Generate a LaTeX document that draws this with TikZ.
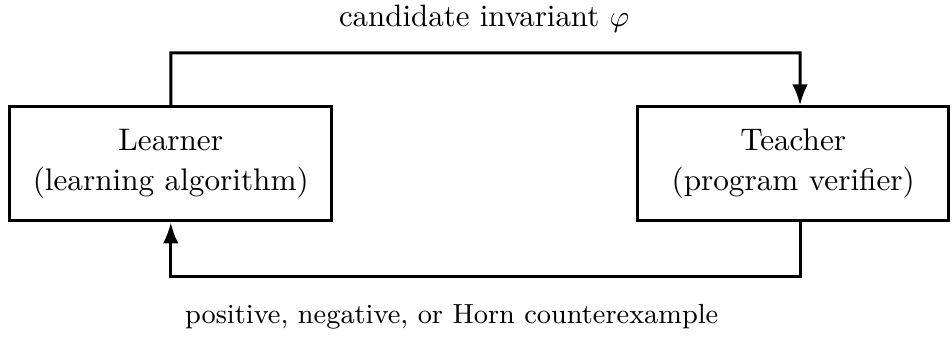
\documentclass[tikz,border=0pt]{standalone}
\usepackage{amsmath,amssymb}
\usepackage{tikz}
\usetikzlibrary{arrows.meta,positioning,calc}

\begin{document}
\begin{tikzpicture}[
    party/.style={draw, line width=1pt, minimum height=1.335cm, align=center, inner sep=2pt, font=\fontsize{10.4}{13.4}\selectfont},
    flow/.style={-{Latex[length=7pt, width=5.2pt]}, line width=1pt},
    lab/.style={align=center}
]
\useasboundingbox (0,0) rectangle (11.15,3.95);
\node[party, minimum width=3.77cm] (learner) at (2.0,2.03) {Learner\\(learning algorithm)};
\node[party, minimum width=3.64cm] (teacher) at (9.29,2.03) {Teacher\\(program verifier)};
\node[lab, font=\fontsize{10.3}{12}\selectfont] (cand) at (5.67,3.73) {candidate invariant $\varphi$};
\node[lab, font=\fontsize{9.2}{11}\selectfont] (cex) at (5.29,0.245) {positive, negative, or Horn counterexample};
\draw[flow] (learner.north) |- (9.37,3.33) -- ($(teacher.north)+(0.08,0)$);
\draw[flow] ($(teacher.south)+(0.08,0)$) |- (2.0,0.714) -- (learner.south);
\end{tikzpicture}
\end{document}
